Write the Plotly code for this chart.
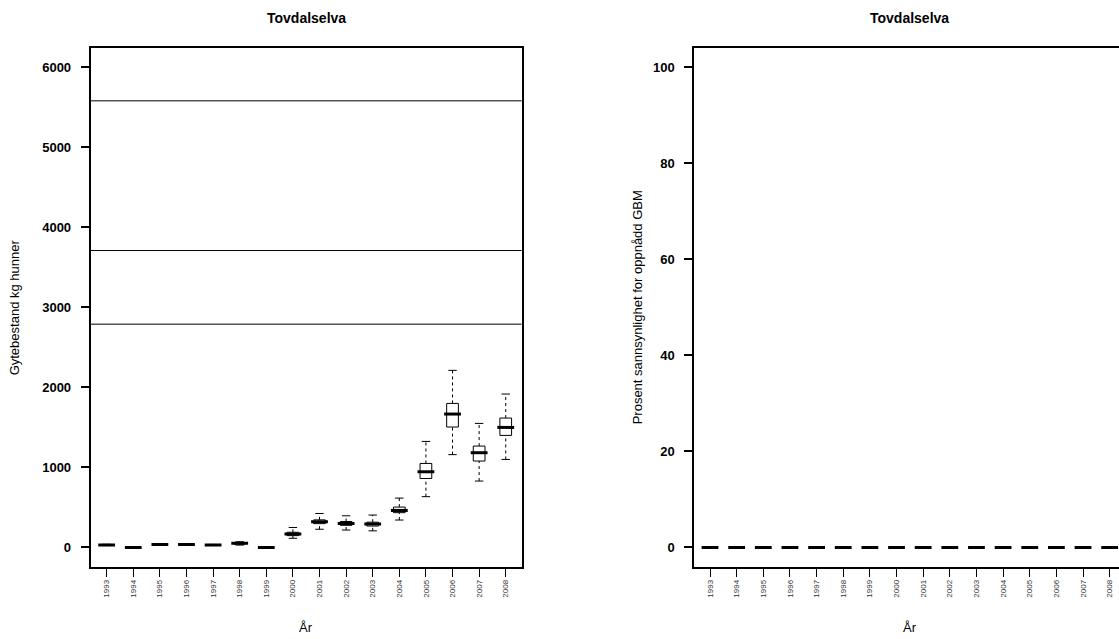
import plotly.graph_objects as go

# År (x-akse)
aar = [1993, 1994, 1995, 1996, 1997, 1998, 1999, 2000,
       2001, 2002, 2003, 2004, 2005, 2006, 2007, 2008]

# Gytebestand kg hunner - boksplott-verdier lest av figuren
gb_lav = [24, 0, 28, 28, 25, 30, 0, 115, 228, 218, 208, 343, 635, 1160, 830, 1100]
gb_q1 = [28, 0, 32, 32, 28, 42, 0, 148, 298, 277, 268, 435, 862, 1505, 1080, 1400]
gb_med = [32, 0, 36, 36, 31, 52, 0, 170, 322, 300, 292, 463, 946, 1667, 1184, 1500]
gb_q3 = [36, 0, 40, 40, 34, 60, 0, 190, 345, 325, 316, 505, 1050, 1800, 1267, 1617]
gb_hoy = [40, 0, 44, 44, 38, 72, 0, 250, 425, 396, 405, 617, 1325, 2213, 1550, 1917]

# grenseverdier (horisontale linjer)
grenser = [2790, 3710, 5580]

# Prosent sannsynlighet for oppnådd GBM
prosent = [0, 0, 0, 0, 0, 0, 0, 0, 0, 0, 0, 0, 0, 0, 0, 0]

W, H = 1119, 639
FONT = "Liberation Sans, Arial, sans-serif"

fig = go.Figure()


def boks(fig, lav, q1, med, q3, hoy, xa, ya):
    # selve boksen (uten whiskers)
    fig.add_trace(go.Box(
        x=aar, q1=q1, median=med, q3=q3, lowerfence=q1, upperfence=q3,
        width=0.44, fillcolor="white", line=dict(color="black", width=1),
        whiskerwidth=0, xaxis=xa, yaxis=ya, showlegend=False, hoverinfo="skip"))
    # stiplede whiskers
    wx, wy = [], []
    for i, a in enumerate(aar):
        wx += [a, a, None, a, a, None]
        wy += [lav[i], q1[i], None, q3[i], hoy[i], None]
    fig.add_trace(go.Scatter(
        x=wx, y=wy, mode="lines", line=dict(color="black", width=1, dash="3px,3px"),
        xaxis=xa, yaxis=ya, showlegend=False, hoverinfo="skip"))
    # endestreker
    fig.add_trace(go.Scatter(
        x=aar + aar, y=lav + hoy, mode="markers",
        marker=dict(symbol="line-ew", size=6, line=dict(color="black", width=1)),
        xaxis=xa, yaxis=ya, showlegend=False, hoverinfo="skip"))
    # median (tykk strek)
    fig.add_trace(go.Scatter(
        x=aar, y=med, mode="markers",
        marker=dict(symbol="line-ew", size=12, line=dict(color="black", width=3)),
        xaxis=xa, yaxis=ya, showlegend=False, hoverinfo="skip"))


boks(fig, gb_lav, gb_q1, gb_med, gb_q3, gb_hoy, "x", "y")
boks(fig, prosent, prosent, prosent, prosent, prosent, "x2", "y2")

for g in grenser:
    fig.add_shape(type="line", xref="x domain", yref="y", x0=0, x1=1, y0=g, y1=g,
                  line=dict(color="black", width=1))

y0 = (H - 566.7) / H
y1 = (H - 48) / H
xd1 = [90.7 / W, 521.7 / W]
xd2 = [694.3 / W, 1.0]

xcommon = dict(
    tickmode="array", tickvals=aar, ticktext=[str(a) for a in aar],
    tickangle=-90, tickfont=dict(family=FONT, size=8, color="#333"),
    ticks="outside", ticklen=8, tickcolor="black", tickwidth=1,
    showgrid=False, zeroline=False, showline=True, linecolor="black",
    linewidth=2, mirror=True,
)
ycommon = dict(
    tickfont=dict(family=FONT, size=13, color="black", weight="bold"),
    ticks="outside", ticklen=8, tickcolor="black", tickwidth=2,
    showgrid=False, zeroline=False, showline=True, linecolor="black",
    linewidth=2, ticklabelstandoff=7,
)

fig.update_layout(
    width=W, height=H, margin=dict(l=0, r=0, t=0, b=0),
    plot_bgcolor="white", paper_bgcolor="white",
    xaxis=dict(domain=xd1, range=[1992.4, 2008.6], anchor="y", **xcommon),
    yaxis=dict(domain=[y0, y1], range=[-240, 6240], tickvals=[0, 1000, 2000, 3000, 4000, 5000, 6000],
               anchor="x", mirror=True, **ycommon),
    xaxis2=dict(domain=xd2, range=[1992.41, 2008.35], anchor="y2", **xcommon),
    yaxis2=dict(domain=[y0, y1], range=[-4, 104], tickvals=[0, 20, 40, 60, 80, 100],
                anchor="x2", mirror=False, **ycommon),
)

# titler og aksetitler
c1 = (xd1[0] + xd1[1]) / 2
c2 = (694.3 + 1125) / 2 / W
ymid = (y0 + y1) / 2
tekster = [
    dict(x=c1, y=(H - 18) / H, text="<b>Tovdalselva</b>", size=14, angle=0),
    dict(x=c2, y=(H - 18) / H, text="<b>Tovdalselva</b>", size=14, angle=0),
    dict(x=c1, y=(H - 627) / H, text="År", size=13, angle=0),
    dict(x=c2, y=(H - 627) / H, text="År", size=13, angle=0),
    dict(x=14 / W, y=ymid, text="Gytebestand kg hunner", size=13, angle=-90),
    dict(x=637 / W, y=ymid, text="Prosent sannsynlighet for oppnådd GBM", size=13, angle=-90),
]
for t in tekster:
    fig.add_annotation(x=t["x"], y=t["y"], xref="paper", yref="paper", text=t["text"],
                       showarrow=False, textangle=t["angle"], xanchor="center", yanchor="middle",
                       font=dict(family=FONT, size=t["size"], color="black"))

# fjern standardmargen i <body> slik at figuren starter i hjørnet
fig.write_html("out.html", config={"displayModeBar": False},
               post_script="document.body.style.margin='0';document.body.style.overflow='hidden';")
